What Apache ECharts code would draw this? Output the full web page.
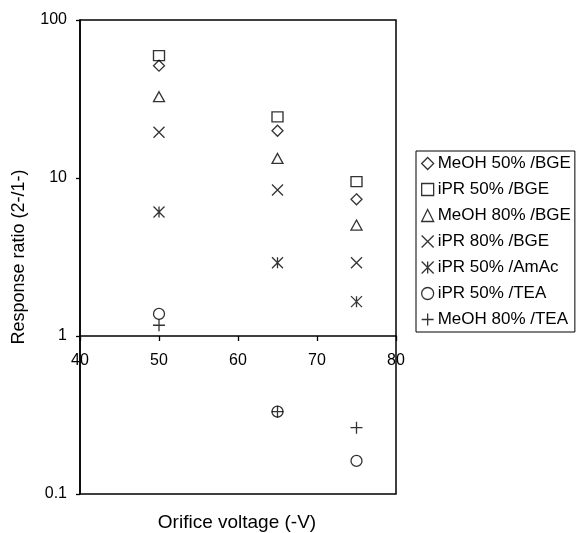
<!DOCTYPE html>
<html>
<head>
<meta charset="utf-8">
<script src="https://cdn.jsdelivr.net/npm/echarts@6/dist/echarts.min.js"></script>
<style>html,body{margin:0;padding:0;background:#fff;}#chart{width:580px;height:533px;}</style>
</head>
<body>
<div id="chart"></div>
<script>
// Orifice voltage (-V)
const voltages = [50, 65, 75];
// Response ratio (2-/1-)
const meoh50BGE = [51.4, 19.9, 7.33];
const ipr50BGE = [59.4, 24.4, 9.47];
const meoh80BGE = [32.7, 13.3, 5.04];
const ipr80BGE = [19.5, 8.4, 2.91];
const ipr50AmAc = [6.09, 2.91, 1.65];
const ipr50TEA = [1.38, 0.332, 0.162];
const meoh80TEA = [1.17, 0.332, 0.263];
const seriesNames = ['MeOH 50% /BGE', 'iPR 50% /BGE', 'MeOH 80% /BGE', 'iPR 80% /BGE', 'iPR 50% /AmAc', 'iPR 50% /TEA', 'MeOH 80% /TEA'];
const xTicks = [40, 50, 60, 70, 80];
const yTicks = [0.1, 1, 10, 100];

const FONT = 'Liberation Sans, Arial, sans-serif';
const allValues = [meoh50BGE, ipr50BGE, meoh80BGE, ipr80BGE, ipr50AmAc, ipr50TEA, meoh80TEA];
const symbols = [
  'diamond',
  'rect',
  'triangle',
  'path://M0,0L10,10M10,0L0,10',
  'path://M0,0L10,10M10,0L0,10M5,0L5,10',
  'circle',
  'path://M5,0L5,10M0,5L10,5'
];
const sizes = [[11, 11], [11, 10], [11, 10], [11, 11], [11, 11], [11, 11], [12, 12]];

const chart = echarts.init(document.getElementById('chart'), null, {renderer: 'canvas'});
const series = seriesNames.map((name, i) => ({
  name: name,
  type: 'scatter',
  data: voltages.map((v, j) => [v, allValues[i][j]]),
  symbol: symbols[i],
  symbolSize: sizes[i],
  itemStyle: {color: 'rgba(0,0,0,0)', borderColor: '#000', borderWidth: 1.3},
  emphasis: {disabled: true}
}));

chart.setOption({
  animation: false,
  backgroundColor: '#fff',
  grid: {left: 80, top: 20, right: 184, bottom: 39, outerBoundsMode: 'none', containLabel: false,
    show: true, borderColor: '#000', borderWidth: 1.5, backgroundColor: 'rgba(0,0,0,0)'},
  xAxis: {
    type: 'value', min: xTicks[0], max: xTicks[xTicks.length - 1], interval: 10,
    offset: -158,
    axisLine: {show: true, onZero: false, lineStyle: {color: '#000', width: 1.5}},
    axisTick: {show: true, inside: false, length: 5, lineStyle: {color: '#000', width: 1.3}},
    axisLabel: {color: '#000', fontSize: 16, fontFamily: FONT, margin: 17},
    splitLine: {show: false}
  },
  yAxis: {
    type: 'log', logBase: 10, min: yTicks[0], max: yTicks[yTicks.length - 1],
    name: 'Response ratio (2-/1-)', nameLocation: 'middle', nameGap: 52,
    nameTextStyle: {color: '#000', fontSize: 18, fontFamily: FONT},
    axisLine: {show: true, lineStyle: {color: '#000', width: 1.5}},
    axisTick: {show: true, inside: false, length: 4, lineStyle: {color: '#000', width: 1.3}},
    axisLabel: {color: '#000', fontSize: 16, fontFamily: FONT, margin: 13,
      formatter: v => String(+Number(v).toPrecision(3))},
    splitLine: {show: false},
    minorTick: {show: false}
  },
  legend: {
    orient: 'vertical', left: 416, top: 151,
    itemWidth: 12, itemHeight: 12, itemGap: 9,
    padding: [4, 4, 4, 5],
    borderColor: '#000', borderWidth: 1,
    itemStyle: {borderWidth: 1.3},
    textStyle: {color: '#000', fontSize: 17, fontFamily: FONT, padding: [0, 0, 0, -1]},
    data: seriesNames
  },
  graphic: [{
    type: 'text', x: 237, y: 523,
    style: {text: 'Orifice voltage (-V)', textAlign: 'center', textVerticalAlign: 'middle', font: '19px ' + FONT, fill: '#000'}
  }],
  series: series
});
</script>
</body>
</html>
